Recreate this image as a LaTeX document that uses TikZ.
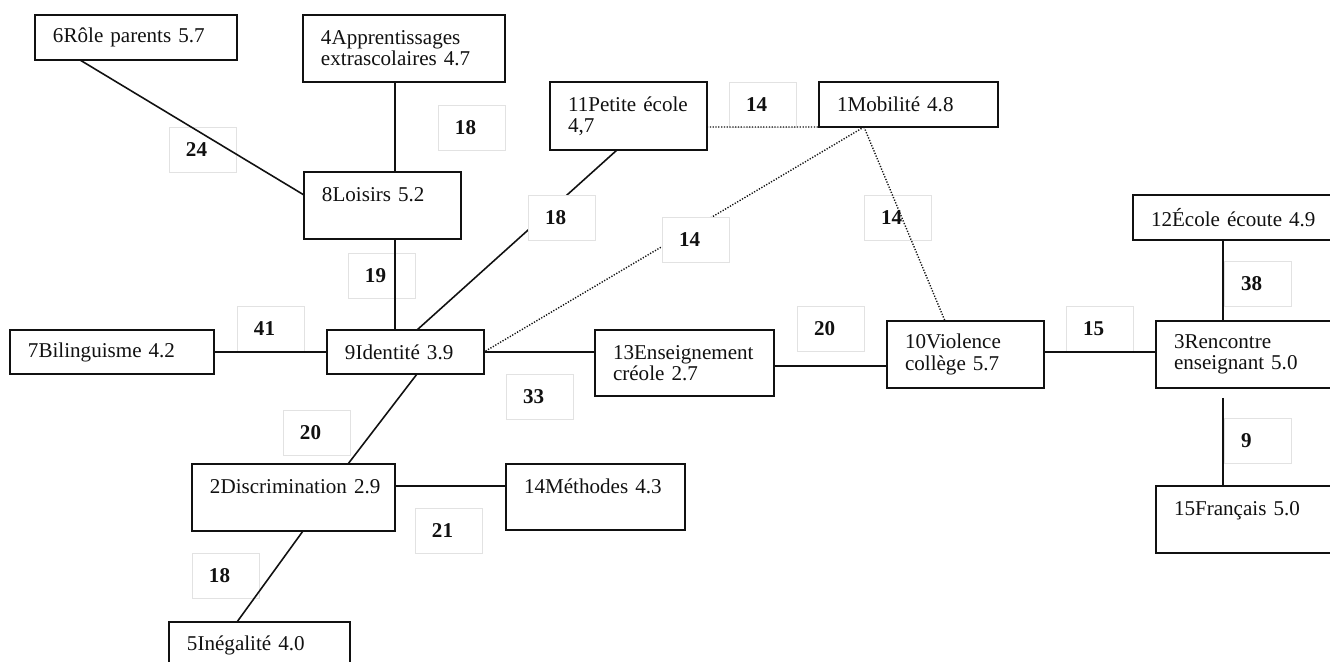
\documentclass[tikz,border=0pt]{standalone}
\usepackage{fontspec}
\setmainfont{Liberation Serif}
\usetikzlibrary{calc}
\definecolor{MapInk}{HTML}{111111}
\definecolor{MapFrame}{HTML}{E2E2E2}
\tikzset{
  every node/.style={text=MapInk},
  theme/.style={draw=MapInk, line width=1.1pt, fill=white, anchor=north west, align=left,
    inner xsep=0.36cm, inner ysep=0pt, outer sep=0pt, font=\fontsize{12}{12}\selectfont},
  weight/.style={draw=MapFrame, line width=0.5pt, fill=white, anchor=north west, align=left,
    text width=0.66cm, inner xsep=0.34cm, inner ysep=0pt, outer sep=0pt, minimum height=0.9cm,
    font=\fontsize{12}{12}\selectfont\bfseries},
  link/.style={draw=MapInk, line width=0.9pt},
  weak/.style={draw=MapInk, line width=0.8pt, dash pattern=on 0.7pt off 0.9pt},
}

\begin{document}
\begin{tikzpicture}[x=0.02cm,y=-0.02cm]
  \clip (0,0) rectangle (1330,662);
  % Themes (top-left corners, pixel grid)
  \node[theme, text width=3.32cm, minimum height=0.9cm] (r6) at (35,15) {6Rôle parents 5.7};
  \node[theme, text width=3.32cm, minimum height=1.34cm] (r4) at (303,15) {4Apprentissages\\extrascolaires 4.7};
  \node[theme, text width=2.42cm, minimum height=1.34cm] (r8) at (304,172) {8Loisirs 5.2\\\mbox{}};
  \node[theme, text width=2.42cm, minimum height=1.36cm] (r11) at (550,82) {11Petite école\\4,7};
  \node[theme, text width=2.86cm, minimum height=0.9cm] (r1) at (819,82) {1Mobilité 4.8};
  \node[theme, text width=3.48cm, minimum height=0.9cm] (r12) at (1133,195) {12École écoute 4.9};
  \node[theme, text width=3.08cm, minimum height=1.34cm] (r3) at (1156,321) {3Rencontre\\enseignant 5.0};
  \node[theme, text width=3.08cm, minimum height=1.34cm] (r15) at (1156,486) {15Français 5.0\\\mbox{}};
  \node[theme, text width=3.36cm, minimum height=0.88cm] (r7) at (10,330) {7Bilinguisme 4.2};
  \node[theme, text width=2.42cm, minimum height=0.88cm] (r9) at (327,330) {9Identité 3.9};
  \node[theme, text width=2.86cm, minimum height=1.32cm] (r13) at (595,330) {13Enseignement\\créole 2.7};
  \node[theme, text width=2.42cm, minimum height=1.34cm] (r10) at (887,321) {10Violence\\collège 5.7};
  \node[theme, text width=3.34cm, minimum height=1.34cm] (r2) at (192,464) {\mbox{2Discrimination 2.9}\\\mbox{}};
  \node[theme, text width=2.86cm, minimum height=1.32cm] (r14) at (506,464) {14Méthodes 4.3\\\mbox{}};
  \node[theme, text width=2.90cm, minimum height=0.92cm] (r5) at (169,622) {5Inégalité 4.0};
  % Weights under the links
  \node[weight] (l68) at (169,127) {24};
  \node[weight] (l48) at (438,105) {18};
  \node[weight] (l111) at (729,82) {14};
  \node[weight] (l110) at (864,195) {14};
  \node[weight] (l89) at (348,253) {19};
  \node[weight] (l79) at (237,306) {41};
  \node[weight] (l1310) at (797,306) {20};
  \node[weight] (l103) at (1066,306) {15};
  \node[weight] (l123) at (1224,261) {38};
  \node[weight] (l315) at (1224,418) {9};
  \node[weight] (l913) at (506,374) {33};
  \node[weight] (l92) at (283,410) {20};
  \node[weight] (l214) at (415,508) {21};
  \node[weight] (l25) at (192,553) {18};
  % Links
  \draw[link] ($(r6.south west)+(45,0)$) -- ($(r8.north west)+(0,23)$);
  \draw[link] ($(r4.south west)+(92,0)$) -- ($(r8.north west)+(91,0)$);
  \draw[link] ($(r8.south west)+(91,0)$) -- ($(r9.north west)+(68,0)$);
  \draw[link] ($(r11.south west)+(67,0)$) -- ($(r9.north west)+(90,0)$);
  \draw[weak] ($(r11.north east)+(0,45)$) -- ($(r1.south west)+(24,0)$);
  \draw[weak] ($(r1.south west)+(45,0)$) -- (r9.east);
  \draw[weak] ($(r1.south west)+(45,0)$) -- ($(r10.north west)+(58,0)$);
  \draw[link] (r7.east) -- (r9.west);
  \draw[link] (r9.east) -- (r9.east -| r13.west);
  \draw[link] ($(r13.north east)+(0,36)$) coordinate (c1310) -- (c1310 -| r10.west);
  \draw[link] ($(r10.north east)+(0,31)$) coordinate (c103) -- (c103 -| r3.west);
  \draw[link] ($(r12.south west)+(90,0)$) -- ($(r3.north west)+(67,0)$);
  \draw[link] ($(r3.south west)+(67,10)$) -- ($(r15.north west)+(67,0)$);
  \draw[link] ($(r9.south west)+(90,0)$) -- ($(r2.north west)+(156,0)$);
  \draw[link] ($(r2.north east)+(0,22)$) coordinate (c214) -- (c214 -| r14.west);
  \draw[link] ($(r2.south west)+(111,0)$) -- ($(r5.north west)+(68,0)$);
  % Weights over the links
  \node[weight] (l119) at (528,195) {18};
  \node[weight] (l19) at (662,217) {14};
\end{tikzpicture}
\end{document}
